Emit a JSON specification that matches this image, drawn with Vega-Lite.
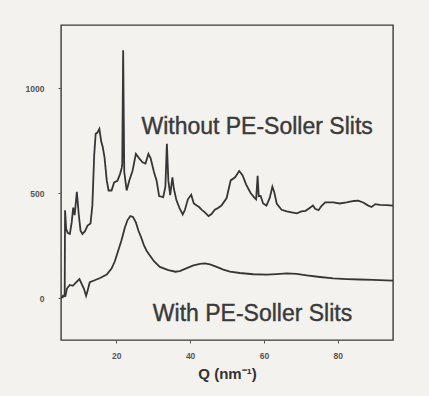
{
  "$schema": "https://vega.github.io/schema/vega-lite/v6.json",
  "autosize": {"type": "none"},
  "width": 332,
  "height": 315,
  "padding": {"left": 61, "top": 25, "right": 36, "bottom": 56},
  "background": "#f3f2ee",
  "config": {
    "font": "Liberation Sans",
    "view": {"stroke": "#3a3a3a", "strokeWidth": 1.4},
    "axis": {
      "grid": false,
      "domain": false,
      "tickColor": "#555555",
      "tickSize": 3,
      "labelFont": "Liberation Sans",
      "labelFontSize": 8.5,
      "labelFontWeight": "bold",
      "labelColor": "#555555"
    }
  },
  "datasets": {
    "curves": [
      {"series": "without", "q": 5.0, "v": 0},
      {"series": "without", "q": 5.5, "v": 5},
      {"series": "without", "q": 6.0, "v": 10},
      {"series": "without", "q": 6.1, "v": 418},
      {"series": "without", "q": 6.4, "v": 330},
      {"series": "without", "q": 6.8, "v": 310},
      {"series": "without", "q": 7.4, "v": 305},
      {"series": "without", "q": 7.9, "v": 360},
      {"series": "without", "q": 8.3, "v": 430},
      {"series": "without", "q": 8.7, "v": 395},
      {"series": "without", "q": 9.3, "v": 505},
      {"series": "without", "q": 9.8, "v": 400},
      {"series": "without", "q": 10.3, "v": 320},
      {"series": "without", "q": 10.8, "v": 305},
      {"series": "without", "q": 11.5, "v": 318},
      {"series": "without", "q": 12.2, "v": 345},
      {"series": "without", "q": 13.0, "v": 355},
      {"series": "without", "q": 13.5, "v": 440},
      {"series": "without", "q": 14.0, "v": 680},
      {"series": "without", "q": 14.4, "v": 782},
      {"series": "without", "q": 14.9, "v": 788},
      {"series": "without", "q": 15.4, "v": 805},
      {"series": "without", "q": 15.7, "v": 770},
      {"series": "without", "q": 15.9, "v": 745},
      {"series": "without", "q": 16.3, "v": 720},
      {"series": "without", "q": 16.8, "v": 670},
      {"series": "without", "q": 17.4, "v": 560},
      {"series": "without", "q": 17.9, "v": 512},
      {"series": "without", "q": 18.7, "v": 512},
      {"series": "without", "q": 19.4, "v": 550},
      {"series": "without", "q": 20.3, "v": 558},
      {"series": "without", "q": 21.0, "v": 590},
      {"series": "without", "q": 21.5, "v": 622},
      {"series": "without", "q": 21.6, "v": 640},
      {"series": "without", "q": 21.85, "v": 1180},
      {"series": "without", "q": 22.15, "v": 600},
      {"series": "without", "q": 22.8, "v": 512},
      {"series": "without", "q": 23.5, "v": 558},
      {"series": "without", "q": 24.4, "v": 606},
      {"series": "without", "q": 25.3, "v": 686},
      {"series": "without", "q": 26.2, "v": 665},
      {"series": "without", "q": 27.1, "v": 646},
      {"series": "without", "q": 27.9, "v": 640},
      {"series": "without", "q": 28.7, "v": 686},
      {"series": "without", "q": 29.3, "v": 665},
      {"series": "without", "q": 30.2, "v": 600},
      {"series": "without", "q": 30.9, "v": 560},
      {"series": "without", "q": 31.6, "v": 485},
      {"series": "without", "q": 32.7, "v": 480},
      {"series": "without", "q": 33.3, "v": 530},
      {"series": "without", "q": 33.7, "v": 734},
      {"series": "without", "q": 34.1, "v": 560},
      {"series": "without", "q": 34.6, "v": 490},
      {"series": "without", "q": 35.2, "v": 575},
      {"series": "without", "q": 35.6, "v": 520},
      {"series": "without", "q": 36.3, "v": 465},
      {"series": "without", "q": 37.2, "v": 425},
      {"series": "without", "q": 38.0, "v": 398},
      {"series": "without", "q": 38.6, "v": 420},
      {"series": "without", "q": 39.4, "v": 470},
      {"series": "without", "q": 40.3, "v": 492},
      {"series": "without", "q": 41.0, "v": 450},
      {"series": "without", "q": 41.8, "v": 440},
      {"series": "without", "q": 42.5, "v": 432},
      {"series": "without", "q": 43.1, "v": 421},
      {"series": "without", "q": 44.0, "v": 408},
      {"series": "without", "q": 45.0, "v": 390},
      {"series": "without", "q": 45.8, "v": 400},
      {"series": "without", "q": 46.7, "v": 421},
      {"series": "without", "q": 47.5, "v": 428},
      {"series": "without", "q": 48.5, "v": 440},
      {"series": "without", "q": 49.9, "v": 476},
      {"series": "without", "q": 51.0, "v": 560},
      {"series": "without", "q": 52.2, "v": 575},
      {"series": "without", "q": 53.3, "v": 605},
      {"series": "without", "q": 54.2, "v": 585},
      {"series": "without", "q": 55.2, "v": 540},
      {"series": "without", "q": 56.4, "v": 500},
      {"series": "without", "q": 57.4, "v": 478},
      {"series": "without", "q": 57.9, "v": 470},
      {"series": "without", "q": 58.3, "v": 582},
      {"series": "without", "q": 58.6, "v": 485},
      {"series": "without", "q": 59.1, "v": 486},
      {"series": "without", "q": 59.8, "v": 450},
      {"series": "without", "q": 60.7, "v": 440},
      {"series": "without", "q": 61.6, "v": 478},
      {"series": "without", "q": 62.3, "v": 530},
      {"series": "without", "q": 62.8, "v": 505},
      {"series": "without", "q": 63.5, "v": 448},
      {"series": "without", "q": 64.8, "v": 420},
      {"series": "without", "q": 66.2, "v": 412},
      {"series": "without", "q": 67.5, "v": 408},
      {"series": "without", "q": 68.9, "v": 403},
      {"series": "without", "q": 70.2, "v": 412},
      {"series": "without", "q": 71.3, "v": 415},
      {"series": "without", "q": 72.5, "v": 430},
      {"series": "without", "q": 73.3, "v": 440},
      {"series": "without", "q": 73.9, "v": 425},
      {"series": "without", "q": 74.8, "v": 418},
      {"series": "without", "q": 75.6, "v": 438},
      {"series": "without", "q": 76.6, "v": 455},
      {"series": "without", "q": 78.8, "v": 455},
      {"series": "without", "q": 80.6, "v": 450},
      {"series": "without", "q": 82.4, "v": 455},
      {"series": "without", "q": 84.4, "v": 462},
      {"series": "without", "q": 85.6, "v": 464},
      {"series": "without", "q": 86.9, "v": 455},
      {"series": "without", "q": 88.3, "v": 440},
      {"series": "without", "q": 89.2, "v": 433},
      {"series": "without", "q": 90.2, "v": 447},
      {"series": "without", "q": 91.5, "v": 443},
      {"series": "without", "q": 93.3, "v": 442},
      {"series": "without", "q": 95.0, "v": 440},
      {"series": "with", "q": 5.0, "v": 0},
      {"series": "with", "q": 5.6, "v": 12},
      {"series": "with", "q": 6.2, "v": 10},
      {"series": "with", "q": 6.6, "v": 45},
      {"series": "with", "q": 7.4, "v": 62},
      {"series": "with", "q": 8.2, "v": 58},
      {"series": "with", "q": 9.1, "v": 74},
      {"series": "with", "q": 10.0, "v": 90},
      {"series": "with", "q": 10.6, "v": 67},
      {"series": "with", "q": 11.2, "v": 45},
      {"series": "with", "q": 11.8, "v": 10},
      {"series": "with", "q": 12.2, "v": 35},
      {"series": "with", "q": 12.8, "v": 75},
      {"series": "with", "q": 13.8, "v": 82},
      {"series": "with", "q": 15.6, "v": 95},
      {"series": "with", "q": 17.4, "v": 112},
      {"series": "with", "q": 18.7, "v": 140},
      {"series": "with", "q": 19.6, "v": 175},
      {"series": "with", "q": 20.5, "v": 225},
      {"series": "with", "q": 21.4, "v": 275},
      {"series": "with", "q": 22.3, "v": 335},
      {"series": "with", "q": 23.0, "v": 370},
      {"series": "with", "q": 23.8, "v": 390},
      {"series": "with", "q": 24.5, "v": 386},
      {"series": "with", "q": 25.3, "v": 360},
      {"series": "with", "q": 26.0, "v": 320},
      {"series": "with", "q": 26.7, "v": 290},
      {"series": "with", "q": 27.5, "v": 250},
      {"series": "with", "q": 28.2, "v": 225},
      {"series": "with", "q": 29.0, "v": 205},
      {"series": "with", "q": 30.2, "v": 175},
      {"series": "with", "q": 31.8, "v": 148},
      {"series": "with", "q": 34.1, "v": 133},
      {"series": "with", "q": 36.0, "v": 125},
      {"series": "with", "q": 37.2, "v": 128},
      {"series": "with", "q": 39.1, "v": 142},
      {"series": "with", "q": 40.9, "v": 155},
      {"series": "with", "q": 42.7, "v": 163},
      {"series": "with", "q": 44.0, "v": 165},
      {"series": "with", "q": 45.4, "v": 160},
      {"series": "with", "q": 47.2, "v": 148},
      {"series": "with", "q": 49.0, "v": 135},
      {"series": "with", "q": 50.8, "v": 126},
      {"series": "with", "q": 53.5, "v": 119},
      {"series": "with", "q": 57.1, "v": 113},
      {"series": "with", "q": 60.7, "v": 111},
      {"series": "with", "q": 63.4, "v": 114},
      {"series": "with", "q": 66.2, "v": 117},
      {"series": "with", "q": 68.9, "v": 115},
      {"series": "with", "q": 71.6, "v": 108},
      {"series": "with", "q": 75.2, "v": 100},
      {"series": "with", "q": 78.8, "v": 93},
      {"series": "with", "q": 82.4, "v": 90},
      {"series": "with", "q": 86.0, "v": 88},
      {"series": "with", "q": 89.6, "v": 86},
      {"series": "with", "q": 95.0, "v": 83}
    ],
    "labels": [
      {"q": 26.8, "v": 781, "text": "Without PE-Soller Slits"},
      {"q": 29.9, "v": -111, "text": "With PE-Soller Slits"}
    ]
  },
  "layer": [
    {
      "data": {"name": "curves"},
      "mark": {"type": "line", "color": "#363636", "strokeWidth": 1.8, "clip": true},
      "encoding": {
        "x": {
          "field": "q",
          "type": "quantitative",
          "scale": {"domain": [5, 95], "nice": false, "zero": false},
          "axis": {
            "values": [20, 40, 60, 80],
            "labelPadding": 8,
            "title": "Q (nm⁻¹)",
            "titleFont": "Liberation Sans",
            "titleFontSize": 15,
            "titleFontWeight": "bold",
            "titleColor": "#333333",
            "titlePadding": 7
          }
        },
        "y": {
          "field": "v",
          "type": "quantitative",
          "scale": {"domain": [-200, 1300], "nice": false, "zero": false},
          "axis": {"values": [0, 500, 1000], "format": "d", "labelPadding": 14, "title": null}
        },
        "detail": {"field": "series"}
      }
    },
    {
      "data": {"name": "labels"},
      "mark": {
        "type": "text",
        "align": "left",
        "baseline": "alphabetic",
        "font": "Liberation Sans",
        "fontSize": 23,
        "color": "#3a3a3a",
        "stroke": "#3a3a3a",
        "strokeWidth": 0.4
      },
      "encoding": {
        "x": {"field": "q", "type": "quantitative"},
        "y": {"field": "v", "type": "quantitative"},
        "text": {"field": "text"}
      }
    }
  ]
}
